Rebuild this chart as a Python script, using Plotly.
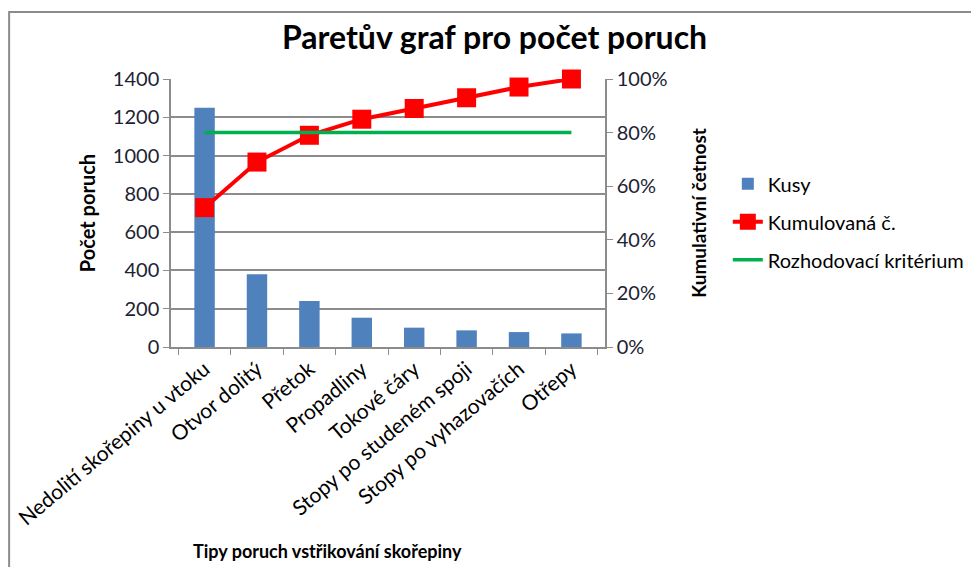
import plotly.graph_objects as go

# data
categories = [
    "Nedolití skořepiny u vtoku",
    "Otvor dolitý",
    "Přetok",
    "Propadliny",
    "Tokové čáry",
    "Stopy po studeném spoji",
    "Stopy po vyhazovačích",
    "Otřepy",
]
kusy = [1250, 380, 240, 153, 101, 87, 78, 71]
kumulovana = [0.52, 0.69, 0.79, 0.85, 0.89, 0.93, 0.97, 1.00]
kriterium = [0.80, 0.80, 0.80, 0.80, 0.80, 0.80, 0.80, 0.80]

left_ticks = [0, 200, 400, 600, 800, 1000, 1200, 1400]
right_ticks = [0, 0.2, 0.4, 0.6, 0.8, 1.0]

FONT = "Lato"
TXT = "#1c2233"
GRID = "#8c8c8c"

fig = go.Figure()

fig.add_trace(go.Bar(
    x=categories,
    y=kusy,
    name="Kusy",
    legendgroup="a",
    marker=dict(color="#4F81BD", line=dict(width=0)),
))

fig.add_trace(go.Scatter(
    x=categories,
    y=kumulovana,
    name="Kumulovaná č.",
    legendgroup="b",
    mode="lines+markers",
    line=dict(color="#FF0000", width=4),
    marker=dict(symbol="square", size=19, color="#FF0000"),
    yaxis="y2",
    cliponaxis=False,
))

fig.add_trace(go.Scatter(
    x=categories,
    y=kriterium,
    name="Rozhodovací kritérium",
    legendgroup="c",
    mode="lines",
    line=dict(color="#00B050", width=3.5),
    yaxis="y2",
))

# page body adds an 8px offset, so margins are shifted by 8px
fig.update_layout(
    width=979,
    height=567,
    margin=dict(l=163, r=382, t=71, b=228, autoexpand=False),
    paper_bgcolor="white",
    plot_bgcolor="white",
    font=dict(family=FONT, color=TXT, size=20),
    bargap=0.61,
    title=dict(
        text="<b>Paretův graf pro počet poruch</b>",
        x=0.497, xanchor="center",
        y=0.947, yanchor="middle",
        font=dict(size=32, color="black", family=FONT),
    ),
    xaxis=dict(
        type="category",
        tickangle=-40,
        tickfont=dict(size=21, color="black"),
        showline=True, linecolor=GRID, linewidth=1.5,
        ticks="outside", tickson="boundaries", ticklen=6, tickcolor=GRID,
        showgrid=False, automargin=False,
    ),
    yaxis=dict(
        range=[0, 1400],
        tickvals=left_ticks,
        tickfont=dict(size=20),
        title=dict(text="<b>Počet poruch</b>", font=dict(size=20, color="black"), standoff=12),
        showline=True, linecolor=GRID, linewidth=1.5,
        ticks="outside", ticklen=6, tickcolor=GRID,
        showgrid=True, gridcolor=GRID, gridwidth=1.5,
        zeroline=False, automargin=False,
    ),
    yaxis2=dict(
        overlaying="y",
        side="right",
        range=[0, 1.0],
        tickvals=right_ticks,
        tickformat=".0%",
        tickfont=dict(size=20),
        title=dict(text="<b>Kumulativní četnost</b>", font=dict(size=19, color="black"), standoff=26),
        showline=True, linecolor=GRID, linewidth=1.5,
        ticks="outside", ticklen=6, tickcolor=GRID,
        showgrid=False, zeroline=False, automargin=False,
    ),
    legend=dict(
        x=1.283, xanchor="left",
        y=0.467, yanchor="middle",
        font=dict(size=20, color="black"),
        bgcolor="rgba(0,0,0,0)",
        tracegroupgap=9,
        itemwidth=30,
    ),
    showlegend=True,
)

fig.add_annotation(
    text="<b>Tipy poruch vstřikování skořepiny</b>",
    xref="paper", yref="paper",
    x=0.36, y=-0.76,
    xanchor="center", yanchor="middle",
    showarrow=False,
    font=dict(size=18, color="black"),
)

# outer chart frame (partly cut off in the reference)
fig.add_shape(
    type="rect", xref="paper", yref="paper",
    x0=-0.373, x1=1.9, y0=-0.95, y1=1.25,
    line=dict(color="#8c8c8c", width=2),
    layer="below",
)

fig.write_html("out.html")
